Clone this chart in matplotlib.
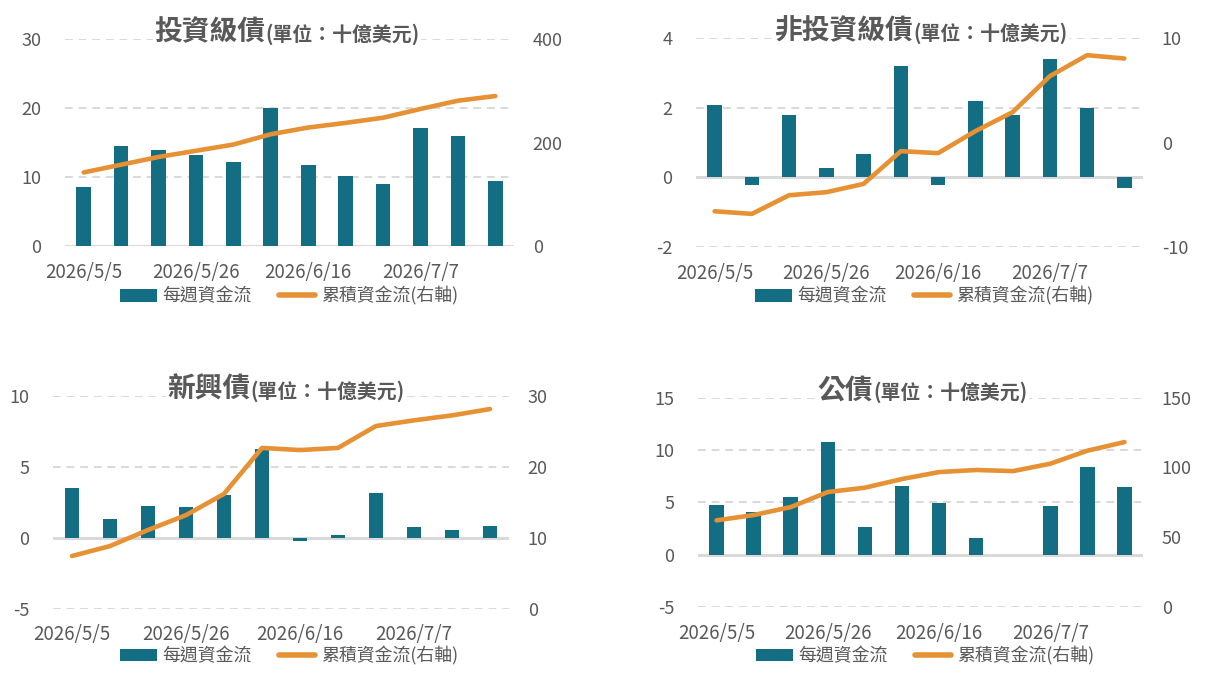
import matplotlib
matplotlib.use("Agg")
import matplotlib.pyplot as plt
from matplotlib.lines import Line2D
from matplotlib.patches import Patch

plt.rcParams['font.family'] = ['Noto Sans CJK TC', 'DejaVu Sans']
plt.rcParams['axes.unicode_minus'] = False

dates = ["2026/5/5", "2026/5/12", "2026/5/19", "2026/5/26", "2026/6/2", "2026/6/9",
         "2026/6/16", "2026/6/23", "2026/6/30", "2026/7/7", "2026/7/14", "2026/7/21"]

ig_weekly = [8.6, 14.5, 13.9, 13.2, 12.1, 20.05, 11.7, 10.2, 8.9, 17.1, 15.95, 9.4]
ig_cum = [142, 157, 172, 184, 196, 216, 229, 238, 248, 265, 281, 290]

hy_weekly = [2.07, -0.22, 1.78, 0.28, 0.68, 3.2, -0.22, 2.19, 1.78, 3.4, 2.0, -0.32]
hy_cum = [-6.6, -6.85, -5.06, -4.77, -3.97, -0.83, -1.02, 1.09, 2.91, 6.37, 8.38, 8.06]

em_weekly = [3.52, 1.32, 2.25, 2.17, 3.03, 6.29, -0.21, 0.19, 3.17, 0.76, 0.54, 0.83]
em_cum = [7.42, 8.83, 11.1, 13.2, 16.2, 22.7, 22.4, 22.7, 25.8, 26.6, 27.3, 28.2]

gov_weekly = [4.75, 4.08, 5.51, 10.76, 2.64, 6.56, 4.94, 1.59, 0.0, 4.65, 8.38, 6.46]
gov_cum = [62.1, 65.9, 71.6, 82.4, 85.5, 91.7, 96.7, 98.2, 97.4, 102.7, 112.0, 118.2]

titles_main = ["投資級債", "非投資級債", "新興債", "公債"]
title_sub = "(單位：十億美元)"
legend_labels = ["每週資金流", "累積資金流(右軸)"]

BAR = "#136E84"
LINE = "#E69133"
GRID = "#D9D9D9"
TXT = "#595959"

W, H = 1216, 674
fig = plt.figure(figsize=(W / 100, H / 100), dpi=100)

panels = [
    dict(box=(65, 39.3, 514, 245.7), weekly=ig_weekly, cum=ig_cum, title=titles_main[0],
         lt=[0, 10, 20, 30], rt=[0, 200, 400], leg=(289, 296), tc=287),
    dict(box=(696, 38.3, 1143, 246.7), weekly=hy_weekly, cum=hy_cum, title=titles_main[1],
         lt=[-2, 0, 2, 4], rt=[-10, 0, 10], leg=(924, 296), tc=921),
    dict(box=(53, 396.3, 509, 608.5), weekly=em_weekly, cum=em_cum, title=titles_main[2],
         lt=[-5, 0, 5, 10], rt=[0, 10, 20, 30], leg=(289, 655.7), tc=286),
    dict(box=(698, 397.7, 1143, 607), weekly=gov_weekly, cum=gov_cum, title=titles_main[3],
         lt=[-5, 0, 5, 10, 15], rt=[0, 50, 100, 150], leg=(925, 655.7), tc=922.5),
]

title_pairs = []
for p in panels:
    x0, y0, x1, y1 = p['box']
    ax = fig.add_axes([x0 / W, 1 - y1 / H, (x1 - x0) / W, (y1 - y0) / H])
    xs = list(range(len(dates)))
    ax.bar(xs, p['weekly'], width=0.39, color=BAR, zorder=3)
    ax.set_xlim(-0.5, len(dates) - 0.5)
    ax.set_ylim(p['lt'][0], p['lt'][-1])
    ax.set_yticks(p['lt'])
    for v in p['lt']:
        if v == 0:
            ax.axhline(0, color=GRID, lw=2.2, zorder=2)
        else:
            ax.axhline(v, color=GRID, lw=1.4, ls=(0, (4, 3)), zorder=1)
    ax.set_xticks(xs[::3])
    ax.set_xticklabels(dates[::3])
    ax.tick_params(axis='x', length=0, pad=11.5, labelsize=13.5, labelcolor=TXT)
    ax.tick_params(axis='y', length=0, pad=17, labelsize=13, labelcolor=TXT)
    for s in ax.spines.values():
        s.set_visible(False)

    ax2 = ax.twinx()
    ax2.plot(xs, p['cum'], color=LINE, lw=3.3, solid_capstyle='round',
             solid_joinstyle='round', zorder=4)
    ax2.set_ylim(p['rt'][0], p['rt'][-1])
    ax2.set_yticks(p['rt'])
    ax2.tick_params(axis='y', length=0, pad=13.5, labelsize=13, labelcolor=TXT)
    for s in ax2.spines.values():
        s.set_visible(False)

    handles = [Patch(facecolor=BAR, edgecolor='none'),
               Line2D([0], [0], color=LINE, lw=4, solid_capstyle='round')]
    fig.legend(handles, legend_labels, loc='center',
               bbox_to_anchor=(p['leg'][0] / W, 1 - p['leg'][1] / H),
               ncol=2, frameon=False, fontsize=12.9, labelcolor=TXT,
               handlelength=2.05, handletextpad=0.3, columnspacing=1.5,
               borderpad=0, borderaxespad=0)

    cx = p['tc'] / W
    by = 1 - (y0 + 1) / H
    t1 = fig.text(cx, by, p['title'], fontsize=20, fontweight='bold', color=TXT,
                  ha='right', va='baseline',
                  bbox=dict(facecolor='white', edgecolor='none', pad=1))
    t2 = fig.text(cx, by, title_sub, fontsize=14.3, fontweight='bold', color=TXT,
                  ha='left', va='baseline',
                  bbox=dict(facecolor='white', edgecolor='none', pad=1))
    title_pairs.append((t1, t2, cx))

fig.canvas.draw()
r = fig.canvas.get_renderer()
for t1, t2, cx in title_pairs:
    w1 = t1.get_window_extent(r).width / W
    w2 = t2.get_window_extent(r).width / W
    left = cx - (w1 + w2) / 2
    t1.set_x(left + w1)
    t2.set_x(left + w1)

fig.savefig("out.png", dpi=100, facecolor='white')
